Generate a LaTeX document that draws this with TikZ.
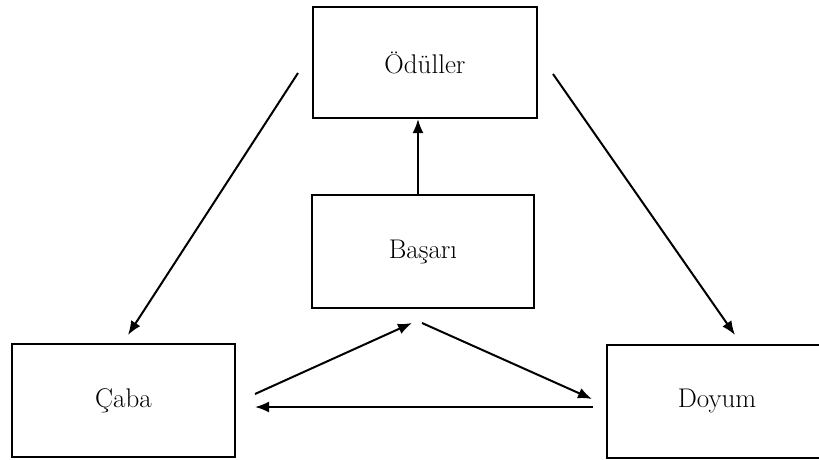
\documentclass[tikz,border=0pt]{standalone}
\usepackage{fontspec}
\usetikzlibrary{arrows.meta}
\begin{document}
\begin{tikzpicture}[x=1pt,y=-1pt,
  box/.style={draw,line width=2pt,rectangle,inner sep=0pt,font=\fontsize{27}{32}\selectfont},
  arr/.style={line width=2pt,-{Latex[length=14pt,width=11pt]}}]
\useasboundingbox (0,0) rectangle (819,460);
\clip (0,0) rectangle (819,460);
\node[box,minimum width=224pt,minimum height=111pt] (od) at (425,62.5) {Ödüller};
\node[box,minimum width=222pt,minimum height=113pt] (ba) at (423,251.5) {Başarı};
\node[box,minimum width=223pt,minimum height=113pt] (ca) at (123.5,400.5) {Çaba};
\node[box,minimum width=220pt,minimum height=113pt] (do) at (717,401.5) {Doyum};
\coordinate (v) at (418,0);
\draw[arr] (ba.north -| v) -- (od.south -| v);
\coordinate (l1) at (298,73);
\coordinate (l2) at (128,335);
\draw[arr] (l1) -- (l2);
\coordinate (r1) at (553,74);
\coordinate (r2) at (735,335);
\draw[arr] (r1) -- (r2);
\coordinate (b1) at (255,394);
\coordinate (b2) at (412,323);
\draw[arr] (b1) -- (b2);
\coordinate (b3) at (422,323);
\coordinate (b4) at (592,399);
\draw[arr] (b3) -- (b4);
\coordinate (b5) at (593,407);
\coordinate (b6) at (255,407);
\draw[arr] (b5) -- (b6);
\end{tikzpicture}
\end{document}
